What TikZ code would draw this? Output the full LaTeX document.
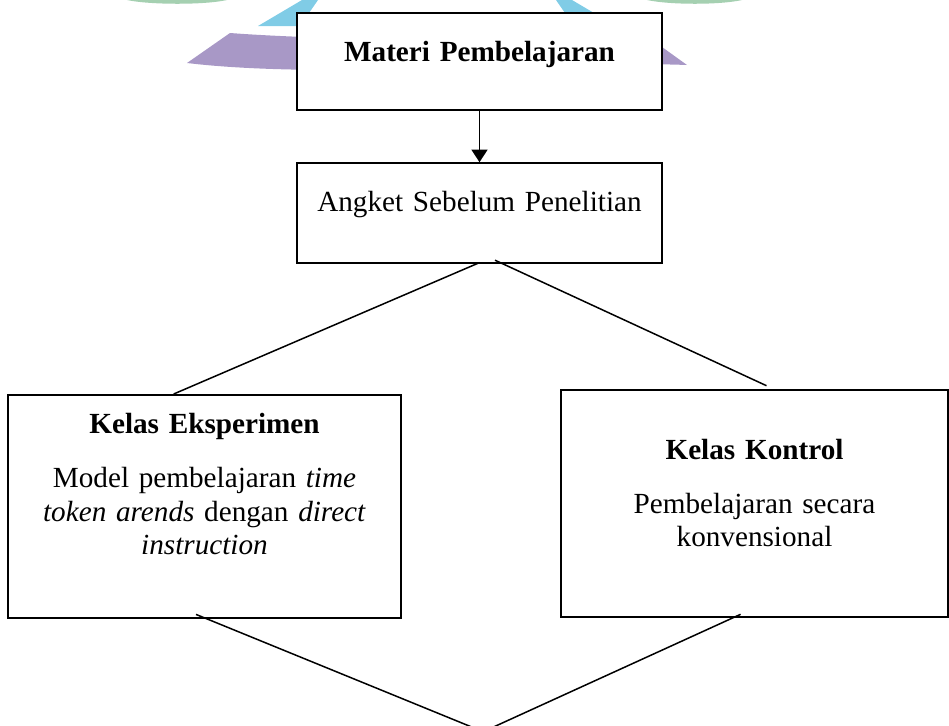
\documentclass[tikz,border=0pt]{standalone}
\usepackage{fontspec}
\setmainfont{Liberation Serif}
\usepackage{tikz}
\usetikzlibrary{positioning}
\usetikzlibrary{arrows.meta}
\pgfdeclarelayer{background layer}
\pgfsetlayers{background layer,main}
\definecolor{wmpurple}{HTML}{A898C6}
\definecolor{wmcyan}{HTML}{80CCE6}
\definecolor{wmgreen}{HTML}{8EC49E}
\tikzstyle{block} = [rectangle, draw, fill=white, line width=1pt, inner sep=0pt, align=center]
\tikzstyle{line} = [draw, line width=0.75pt]
\tikzstyle{arrowline} = [draw, line width=0.85pt, -{Triangle[length=6.3pt,width=8pt]}]
\begin{document}
\begin{tikzpicture}[x=0.5pt, y=-0.5pt, font=\fontsize{14.6pt}{16.7pt}\selectfont]
			\useasboundingbox (0,0) rectangle (949,725);
			\clip (0,0) rectangle (949,725);
			% watermark behind the chart
			\begin{pgfonlayer}{background layer}
			\fill [wmgreen, opacity=0.8] (127,0) .. controls (150,5) and (205,5) .. (227,0) -- cycle;
			\fill [wmgreen, opacity=0.8] (647,0) .. controls (670,5) and (720,5) .. (742,0) -- cycle;
			\fill [wmcyan] (258,26) -- (302,0) -- (318,0) -- (300,26) -- cycle;
			\fill [wmcyan] (616,26) -- (572,0) -- (556,0) -- (574,26) -- cycle;
			\fill [wmpurple] (187,63) -- (230,33) .. controls (350,42) and (550,40) .. (662,47) -- (687,65) .. controls (560,60) and (330,80) .. cycle;
			\end{pgfonlayer}
			\node [block, text width=182.25pt, text height=24pt, text depth=24.5pt] (materi) at (479.5,61.5) {\textbf{Materi Pembelajaran}};
			\node [block, text width=182.5pt, text height=24.3pt, text depth=25.7pt] (angket) at (479.5,213.2) {Angket Sebelum Penelitian};
			\node [block, text width=196.5pt, text height=19pt, text depth=92.7pt] (eksp) at (204.5,506.7) {\textbf{Kelas Eksperimen}\\[10.7pt] Model pembelajaran \textit{time}\\ \textit{token arends} dengan \textit{direct}\\ \textit{instruction}};
			\node [block, text width=193.5pt, text height=34.7pt, text depth=78.8pt] (kontrol) at (754.5,503.5) {\textbf{Kelas Kontrol}\\[10.3pt] Pembelajaran secara\\ konvensional};
			\coordinate (temu) at (483.2,731.7);
			\path [arrowline] (materi) -- (angket);
			\path [line] ([yshift=0.8pt]angket.south) -- ([xshift=-15.4pt]eksp.north);
			\path [line] ([xshift=7.75pt,yshift=2pt]angket.south) -- ([xshift=6pt,yshift=1.65pt]kontrol.north);
			\path [line] ([xshift=-4.25pt,yshift=2.5pt]eksp.south) -- (temu);
			\path [line] ([xshift=-6.95pt,yshift=1.85pt]kontrol.south) -- (temu);

\end{tikzpicture}
\end{document}
